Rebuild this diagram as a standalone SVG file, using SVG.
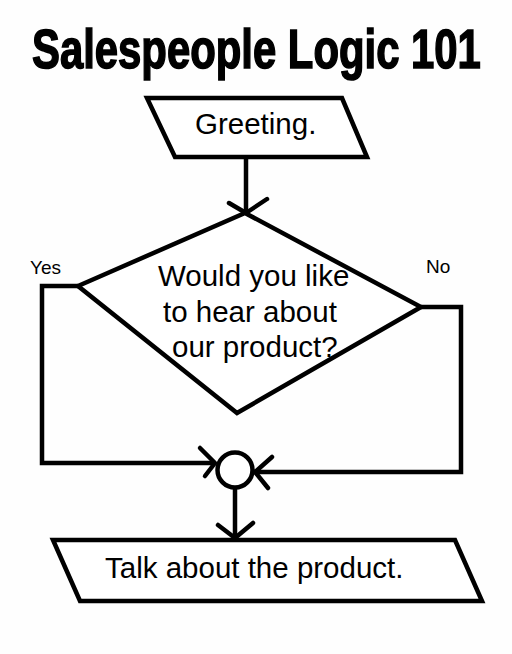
<svg xmlns="http://www.w3.org/2000/svg" width="512" height="654" viewBox="0 0 512 654">
<style>
.shape{fill:#fff;stroke:#000;stroke-width:4.5;stroke-linejoin:miter}
.line{fill:none;stroke:#000;stroke-width:4.5;stroke-linejoin:miter;stroke-linecap:butt}
.arrow{fill:none;stroke:#000;stroke-width:4.5;stroke-linecap:round;stroke-linejoin:round}
.lbl{font-family:"Liberation Sans",Arial,sans-serif;font-size:29.5px;fill:#000}
.small{font-family:"Liberation Sans",Arial,sans-serif;font-size:19px;fill:#000}
.title{font-family:"Liberation Sans",Arial,sans-serif;font-weight:bold;font-size:56px;fill:#000;stroke:#000;stroke-width:1.6}
</style>
<rect width="512" height="654" fill="#fefefe"/>
<text class="title" transform="translate(32,68) scale(0.7475,1)" x="0" y="0">Salespeople Logic 101</text>
<g id="connectors">
<path class="line" d="M246 157 L246 212"/>
<path class="arrow" d="M229 203 L246 213 L267 199"/>
<path class="line" d="M78 286 L42 286 L42 463 L214 463"/>
<path class="arrow" d="M200 448 L215 463 L205 476"/>
<path class="line" d="M421 307 L461 307 L461 472 L256 472"/>
<path class="arrow" d="M272 457 L255 472 L268 488"/>
<path class="line" d="M235 489 L235 538"/>
<path class="arrow" d="M218 525 L235 538 L253 523"/>
<text class="small" x="30" y="274">Yes</text>
<text class="small" x="426" y="273">No</text>
</g>
<g id="greeting">
<polygon class="shape" points="147,98 342,98 367,157 175,157"/>
<text class="lbl" x="195" y="134">Greeting.</text>
</g>
<g id="question">
<polygon class="shape" points="245,213 421,307 237,413 78,286"/>
<text class="lbl" x="158" y="286">Would you like</text>
<text class="lbl" x="163" y="322">to hear about</text>
<text class="lbl" x="172" y="357">our product?</text>
</g>
<g id="merge">
<circle class="shape" cx="235" cy="470" r="17.5"/>
</g>
<g id="talk">
<polygon class="shape" points="53,540 455,540 482,601 80,601"/>
<text class="lbl" x="105" y="578">Talk about the product.</text>
</g>
</svg>
